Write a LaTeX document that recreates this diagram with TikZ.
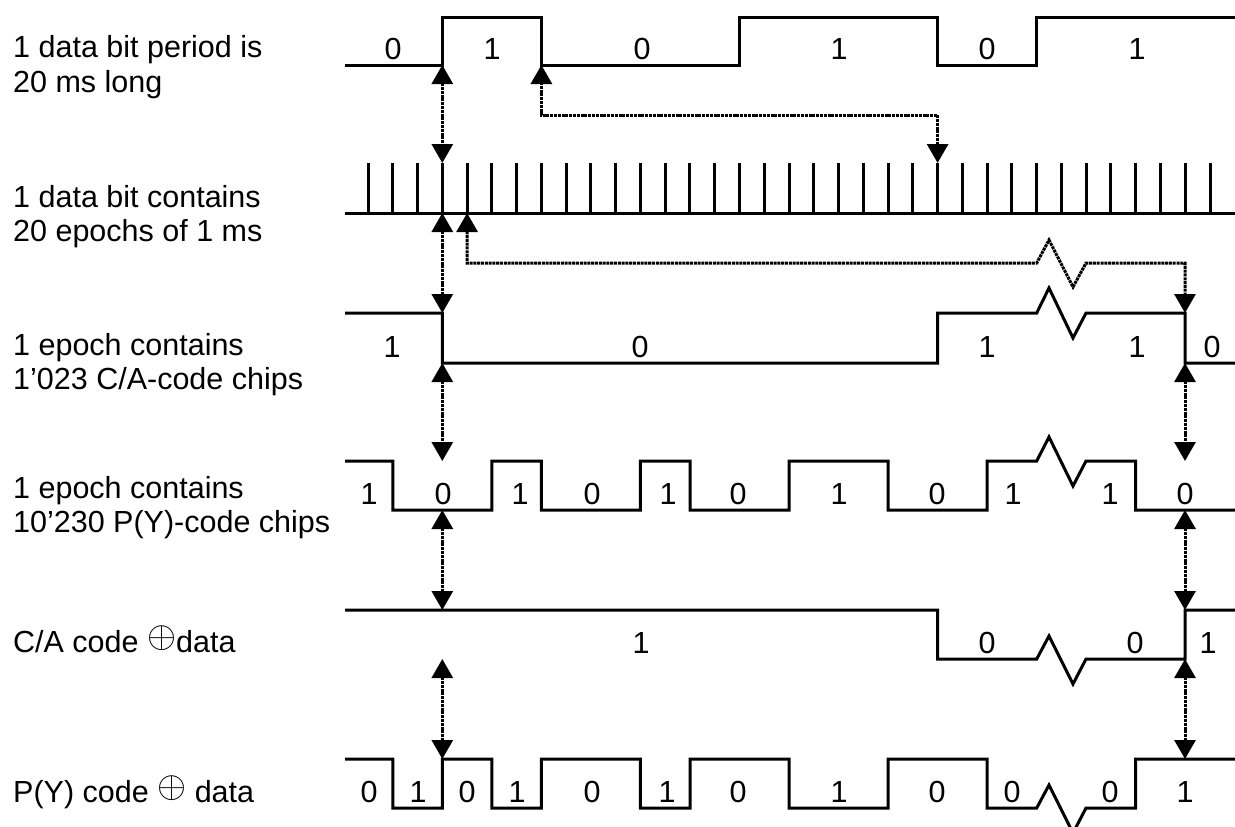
\documentclass[tikz,border=0pt]{standalone}
\usepackage{fontspec}
\usepackage{graphicx}
\setmainfont{Liberation Sans}
\usetikzlibrary{arrows.meta}
\newcommand{\myxor}{\raisebox{5pt}{\scalebox{1.5}{$\oplus$}}}
\begin{document}
\begin{tikzpicture}[x=1pt,y=-1pt,
  wave/.style={line width=3pt, line join=miter},
  tickmark/.style={line width=3pt},
  conn/.style={line width=3pt, dash pattern=on 3pt off 0.8pt,
     {Triangle[width=21pt,length=19pt]}-{Triangle[width=21pt,length=19pt]}},
  lbl/.style={font=\fontsize{30.5}{36}\selectfont, inner sep=0pt, anchor=base west},
  bit/.style={font=\fontsize{30.5}{36}\selectfont, inner sep=0pt, anchor=base}]
\useasboundingbox (0,0) rectangle (1235,827);

% left labels
\node[lbl] (l1a) at (13,57) {1 data bit period is};
\node[lbl] (l1b) at (13,92) {20 ms long};
\node[lbl] (l2a) at (13,207) {1 data bit contains};
\node[lbl] (l2b) at (13,241) {20 epochs of 1 ms};
\node[lbl] (l3a) at (13,355) {1 epoch contains};
\node[lbl] (l3b) at (13,389) {1’023 C/A-code chips};
\node[lbl] (l4a) at (13,498) {1 epoch contains};
\node[lbl] (l4b) at (13,532) {10’230 P(Y)-code chips};
\node[lbl] (l5) at (13,652) {C/A code \myxor data};
\node[lbl] (l6) at (13,802) {P(Y) code \myxor\ data};

% row 1: data bits
\draw[wave] (345,65) -- (442.3,65) -- (442.3,17) -- (541.4,17) -- (541.4,65)
  -- (739.5,65) -- (739.5,17) -- (937.6,17) -- (937.6,65) -- (1036.7,65)
  -- (1036.7,17) -- (1235,17);
\foreach \x/\t [count=\i] in {393/0,492/1,642/0,839/1,987/0,1137/1}
  \node[bit] (b1\i) at (\x,59) {\t};

% row 2: epochs
\draw[wave] (345,213) -- (1235,213);
\foreach \k in {0,...,34}
  \draw[tickmark] ({368+24.765*\k},163) -- ({368+24.765*\k},213);

% row 3: C/A code
\draw[wave] (345,313) -- (442.3,313) -- (442.3,363) -- (937.6,363) -- (937.6,313)
  -- (1036.7,313) -- (1049,288) -- (1073,338) -- (1086,313) -- (1185,313)
  -- (1185,363) -- (1235,363);
\foreach \x/\t [count=\i] in {392/1,640/0,987/1,1137/1,1212/0}
  \node[bit] (b3\i) at (\x,357) {\t};

% row 4: P(Y) code
\draw[wave] (345,461) -- (392.8,461) -- (392.8,510) -- (491.8,510) -- (491.8,461)
  -- (541.4,461) -- (541.4,510) -- (640.4,510) -- (640.4,461) -- (690,461)
  -- (690,510) -- (789,510) -- (789,461) -- (888,461) -- (888,510) -- (987,510)
  -- (987,461) -- (1036.7,461) -- (1049,437) -- (1073,486) -- (1086,461)
  -- (1135.7,461) -- (1135.7,510) -- (1235,510);
\foreach \x/\t [count=\i] in {369/1,443/0,520/1,592/0,668/1,738/0,839/1,937/0,1013/1,1110/1,1185/0}
  \node[bit] (b4\i) at (\x,504) {\t};

% row 5: C/A xor data
\draw[wave] (345,610) -- (937.6,610) -- (937.6,659) -- (1036.7,659) -- (1049,636)
  -- (1073,684) -- (1086,659) -- (1185,659) -- (1185,610) -- (1235,610);
\foreach \x/\t [count=\i] in {641/1,987/0,1135/0,1208/1}
  \node[bit] (b5\i) at (\x,653) {\t};

% row 6: P(Y) xor data
\draw[wave] (345,759) -- (392.8,759) -- (392.8,808) -- (442.3,808) -- (442.3,759)
  -- (491.8,759) -- (491.8,808) -- (541.4,808) -- (541.4,759) -- (640.4,759)
  -- (640.4,808) -- (690,808) -- (690,759) -- (789,759) -- (789,808) -- (888,808)
  -- (888,759) -- (987,759) -- (987,808) -- (1036.7,808) -- (1049,785)
  -- (1073,833) -- (1086,808) -- (1135.7,808) -- (1135.7,759) -- (1235,759);
\foreach \x/\t [count=\i] in {369/0,418/1,467/0,517/1,592/0,667/1,738/0,839/1,937/0,1012/0,1110/0,1185/1}
  \node[bit] (b6\i) at (\x,802) {\t};

% connector end points
\coordinate (a1s) at (442.3,65);   \coordinate (a1e) at (442.3,163);
\coordinate (a2s) at (937.6,163);  \coordinate (a2e) at (541.4,65);
\coordinate (a3s) at (442.3,213);  \coordinate (a3e) at (442.3,313);
\coordinate (a4s) at (467.1,213);  \coordinate (a4e) at (1185,313);
\coordinate (a5s) at (442.3,363);  \coordinate (a5e) at (442.3,461);
\coordinate (a6s) at (1185,363);   \coordinate (a6e) at (1185,461);
\coordinate (a7s) at (442.3,510);  \coordinate (a7e) at (442.3,610);
\coordinate (a8s) at (1185,510);   \coordinate (a8e) at (1185,610);
\coordinate (a9s) at (442.3,659);  \coordinate (a9e) at (442.3,759);
\coordinate (a10s) at (1185,659);  \coordinate (a10e) at (1185,759);

% connectors
\draw[conn] (a1s) -- (a1e);
\draw[conn] (a2s) -- (937.6,115) -- (541.4,115) -- (a2e);
\draw[conn] (a3s) -- (a3e);
\draw[conn] (a4s) -- (467.1,263) -- (1036.7,263) -- (1049,240) -- (1073,287)
  -- (1086,263) -- (1185,263) -- (a4e);
\draw[conn] (a5s) -- (a5e);
\draw[conn] (a6s) -- (a6e);
\draw[conn] (a7s) -- (a7e);
\draw[conn] (a8s) -- (a8e);
\draw[conn] (a9s) -- (a9e);
\draw[conn] (a10s) -- (a10e);
\end{tikzpicture}
\end{document}
